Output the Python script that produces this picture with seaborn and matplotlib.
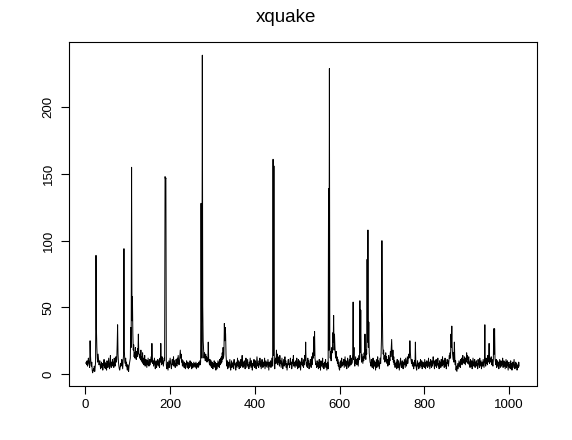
import numpy as np
import pandas as pd
import seaborn as sns
import matplotlib
matplotlib.use("Agg")
import matplotlib.pyplot as plt

# values, 1024 points
quake_vals = [
    8, 9, 7, 10, 6, 8, 12, 9, 7, 5, 25, 14, 8, 6, 9, 3, 1, 2, 4, 3, 6, 2, 5, 9, 89, 34, 20, 12, 9, 15, 11, 7,
    8, 10, 6, 4, 7, 9, 5, 8, 3, 6, 7, 11, 5, 9, 4, 8, 6, 3, 10, 7, 5, 9, 12, 6, 4, 8, 14, 7, 5, 9, 6, 11,
    7, 9, 5, 12, 8, 6, 10, 13, 9, 11, 22, 37, 15, 9, 6, 4, 3, 5, 8, 6, 9, 11, 7, 4, 10, 14, 94, 17, 10, 8, 12, 6,
    9, 5, 3, 7, 4, 2, 6, 8, 10, 12, 35, 20, 155, 40, 58, 30, 18, 22, 13, 16, 12, 20, 14, 11, 17, 13, 19, 15, 30, 16, 14, 12,
    15, 11, 18, 10, 13, 9, 16, 8, 12, 7, 10, 14, 6, 9, 11, 8, 5, 10, 7, 12, 9, 6, 8, 11, 7, 10, 13, 9, 23, 12, 8, 10,
    6, 9, 12, 7, 4, 8, 10, 5, 9, 7, 11, 6, 8, 10, 5, 12, 9, 23, 11, 7, 13, 8, 10, 6, 9, 12, 10, 148, 146, 147, 7, 4,
    6, 9, 3, 7, 10, 5, 8, 12, 9, 6, 4, 8, 11, 7, 9, 13, 6, 10, 8, 5, 7, 11, 9, 6, 12, 8, 14, 10, 7, 9, 13, 18,
    12, 15, 9, 11, 6, 8, 10, 7, 5, 9, 6, 4, 8, 7, 10, 5, 6, 9, 4, 7, 8, 5, 10, 6, 7, 9, 4, 8, 6, 5, 7, 9,
    6, 8, 5, 7, 9, 4, 6, 8, 7, 5, 9, 6, 8, 10, 7, 9, 128, 40, 12, 239, 51, 25, 18, 12, 16, 14, 10, 15, 11, 13, 9, 12,
    10, 24, 12, 9, 7, 11, 6, 8, 10, 5, 9, 7, 4, 8, 6, 10, 7, 5, 9, 3, 6, 8, 4, 7, 10, 6, 9, 5, 11, 7, 12, 8,
    13, 9, 16, 11, 20, 12, 15, 38, 25, 35, 30, 14, 9, 6, 10, 4, 7, 9, 5, 8, 11, 6, 3, 7, 10, 5, 8, 6, 9, 4, 11, 7,
    8, 6, 3, 9, 7, 5, 12, 8, 6, 10, 4, 7, 9, 5, 11, 6, 8, 14, 7, 5, 9, 6, 10, 8, 4, 7, 12, 9, 5, 8, 11, 6,
    7, 4, 9, 6, 12, 8, 5, 10, 7, 3, 8, 6, 9, 11, 5, 7, 10, 6, 4, 8, 13, 9, 6, 8, 5, 10, 7, 12, 6, 9, 4, 8,
    11, 7, 5, 9, 6, 8, 12, 4, 7, 10, 6, 9, 5, 8, 11, 7, 3, 9, 6, 8, 10, 5, 7, 12, 9, 6, 161, 14, 156, 8, 4, 10,
    12, 8, 18, 10, 15, 7, 13, 9, 11, 6, 14, 8, 10, 5, 9, 12, 7, 4, 8, 11, 6, 9, 13, 7, 10, 5, 8, 3, 6, 9, 11, 7,
    8, 5, 10, 12, 7, 9, 4, 6, 11, 8, 14, 6, 9, 7, 5, 10, 8, 6, 12, 9, 4, 7, 11, 5, 8, 10, 6, 3, 9, 7, 12, 8,
    6, 9, 5, 11, 7, 14, 10, 24, 8, 6, 9, 5, 12, 7, 10, 4, 8, 6, 11, 9, 5, 13, 7, 10, 16, 12, 28, 14, 32, 12, 9, 7,
    8, 5, 10, 6, 9, 4, 7, 11, 5, 8, 3, 10, 6, 9, 7, 12, 5, 8, 4, 6, 9, 7, 11, 5, 8, 3, 6, 9, 4, 139, 18, 229,
    22, 12, 17, 10, 14, 20, 16, 31, 24, 44, 18, 30, 21, 15, 12, 17, 10, 13, 8, 11, 6, 9, 4, 3, 7, 10, 5, 8, 12, 6, 9, 7,
    7, 11, 5, 9, 13, 6, 10, 8, 4, 7, 12, 9, 5, 8, 11, 6, 14, 9, 7, 12, 8, 10, 15, 54, 11, 20, 9, 6, 10, 13, 8, 11,
    7, 9, 12, 6, 10, 14, 11, 55, 16, 48, 13, 9, 15, 11, 8, 13, 10, 16, 12, 30, 14, 11, 18, 15, 86, 24, 108, 20, 39, 16, 12, 9,
    8, 6, 11, 9, 5, 7, 12, 4, 8, 10, 6, 9, 3, 7, 11, 5, 8, 13, 6, 10, 7, 4, 9, 12, 8, 15, 28, 100, 47, 22, 15, 18,
    11, 14, 9, 12, 16, 10, 13, 8, 11, 6, 9, 14, 7, 12, 10, 17, 13, 20, 26, 15, 11, 18, 9, 13, 7, 10, 5, 8,
    6, 9, 4, 11, 7, 5, 10, 8, 3, 6, 9, 12, 7, 5, 8, 10, 6, 4, 9, 7, 11, 8, 5, 12, 9, 6, 10, 13, 8, 11, 15, 12,
    14, 25, 17, 12, 10, 8, 11, 6, 9, 7, 4, 8, 10, 6, 24, 9, 5, 3, 7, 10, 6, 8, 4, 9, 7, 5, 11, 8, 6, 10, 4, 7,
    9, 6, 8, 5, 11, 7, 4, 9, 6, 10, 8, 5, 7, 12, 6, 9, 4, 8, 11, 7, 5, 10, 6, 8, 13, 9, 7, 4, 10, 6, 8, 11,
    5, 9, 7, 12, 6, 8, 4, 10, 7, 9, 5, 11, 8, 6, 13, 9, 7, 10, 5, 8, 12, 6, 9, 4, 7, 11, 8, 10, 6, 9, 14, 12,
    16, 12, 30, 20, 36, 18, 14, 11, 16, 9, 24, 13, 7, 10, 3, 6, 2, 5, 8, 4, 7, 10, 6, 9, 5, 11, 8, 12, 7, 10, 14, 9,
    11, 8, 13, 10, 7, 12, 9, 16, 11, 14, 8, 10, 13, 7, 9, 5, 11, 8, 6, 10, 4, 7, 12, 9, 6, 8, 11, 5, 9, 7, 10, 6,
    8, 4, 11, 7, 9, 5, 12, 6, 8, 10, 4, 7, 9, 6, 11, 8, 5, 10, 37, 9, 6, 12, 8, 10, 7, 14, 9, 11, 23, 8, 12, 10,
    9, 13, 7, 11, 8, 6, 10, 34, 15, 34, 12, 9, 7, 11, 5, 8, 10, 6, 9, 4, 7, 11, 8, 5, 10, 6, 9, 7, 12, 5, 8, 10,
    6, 9, 4, 8, 11, 5, 7, 10, 6, 3, 8, 9, 5, 7, 4, 10, 6, 8, 3, 7, 9, 5, 8, 11, 6, 4, 7, 9, 5, 8, 3, 6,
    7, 5, 9, 6,
]
x_ticks = [0, 200, 400, 600, 800, 1000]
y_ticks = [0, 50, 100, 150, 200]

df = pd.DataFrame({"idx": np.arange(1, len(quake_vals) + 1), "xquake": quake_vals})

sns.set_style("white")
plt.rcParams["font.family"] = ["Liberation Sans", "DejaVu Sans"]

fig = plt.figure(figsize=(5.72, 4.40), dpi=100)
ax = fig.add_axes([68.5 / 572, 1 - 385.5 / 440, 468 / 572, 343 / 440])

sns.lineplot(data=df, x="idx", y="xquake", ax=ax, color="black", linewidth=0.7)

# R style 4% padding
n = len(quake_vals)
ax.set_xlim(1 - 0.04 * (n - 1), n + 0.04 * (n - 1))
lo, hi = min(quake_vals), max(quake_vals)
ax.set_ylim(lo - 0.04 * (hi - lo), hi + 0.04 * (hi - lo))

ax.set_xticks(x_ticks)
ax.set_yticks(y_ticks)
ax.set_xlabel("")
ax.set_ylabel("")
ax.tick_params(direction="out", length=6, width=0.8, colors="black", labelcolor="black",
               labelsize=9.5, pad=4, bottom=True, left=True)
for lbl in ax.get_yticklabels():
    lbl.set_rotation(90)
    lbl.set_va("center")
for s in ax.spines.values():
    s.set_color("black")
    s.set_linewidth(0.8)

fig.suptitle("xquake", y=1 - 17 / 440, va="center", fontsize=13.5, color="black")

fig.savefig("out.png", dpi=100)
